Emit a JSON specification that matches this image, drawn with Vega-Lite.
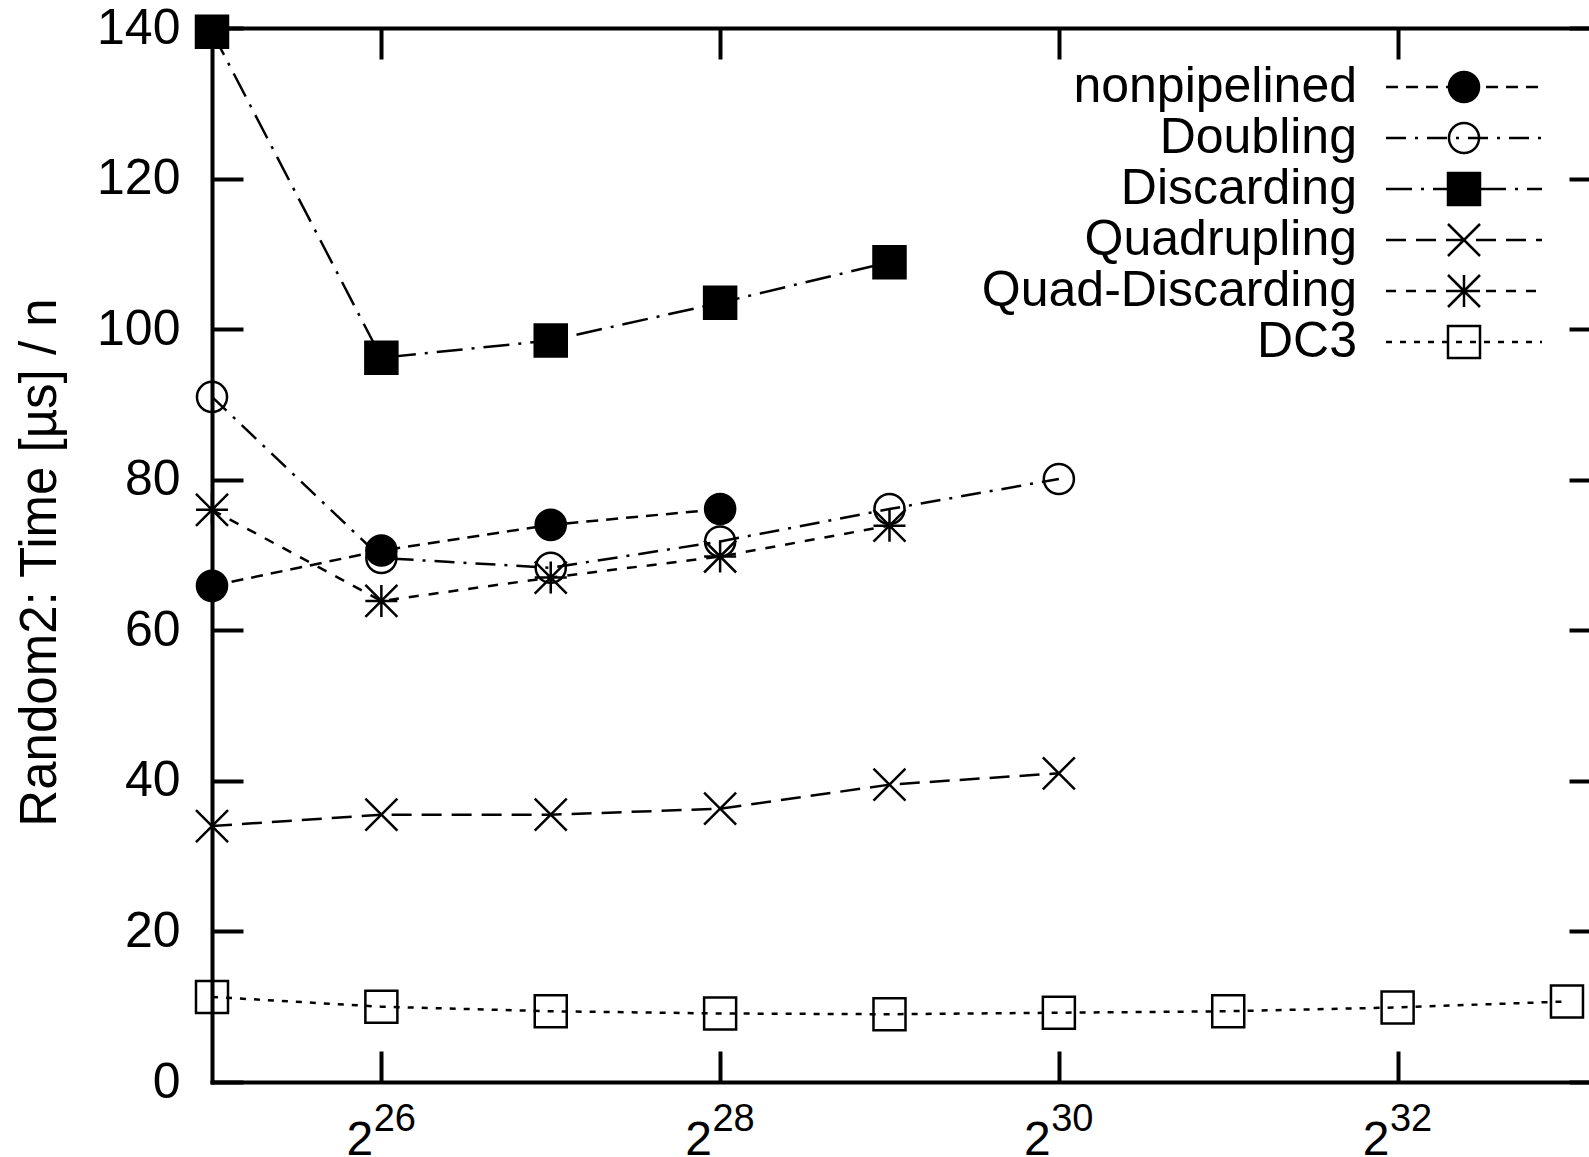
{
  "$schema": "https://vega.github.io/schema/vega-lite/v6.json",
  "width": 1377,
  "height": 1054,
  "autosize": {"type": "none"},
  "padding": {"left": 212, "top": 28, "right": 0, "bottom": 75},
  "background": "white",
  "config": {
    "view": {"stroke": null},
    "font": "Liberation Sans",
    "axis": {
      "grid": false,
      "domainColor": "black",
      "tickColor": "black",
      "labelColor": "black",
      "titleColor": "black",
      "domainWidth": 4,
      "tickWidth": 4,
      "domainCap": "square",
      "labelFont": "Liberation Sans",
      "titleFont": "Liberation Sans"
    }
  },
  "datasets": {
    "perf": [
      {"series": "nonpipelined", "log2n": 25, "time": 65.9},
      {"series": "nonpipelined", "log2n": 26, "time": 70.6},
      {"series": "nonpipelined", "log2n": 27, "time": 74.0},
      {"series": "nonpipelined", "log2n": 28, "time": 76.1},
      {"series": "Doubling", "log2n": 25, "time": 91.0},
      {"series": "Doubling", "log2n": 26, "time": 69.6},
      {"series": "Doubling", "log2n": 27, "time": 68.3},
      {"series": "Doubling", "log2n": 28, "time": 71.8},
      {"series": "Doubling", "log2n": 29, "time": 76.1},
      {"series": "Doubling", "log2n": 30, "time": 80.1},
      {"series": "Discarding", "log2n": 25, "time": 139.5},
      {"series": "Discarding", "log2n": 26, "time": 96.2},
      {"series": "Discarding", "log2n": 27, "time": 98.5},
      {"series": "Discarding", "log2n": 28, "time": 103.5},
      {"series": "Discarding", "log2n": 29, "time": 108.9},
      {"series": "Quadrupling", "log2n": 25, "time": 34.0},
      {"series": "Quadrupling", "log2n": 26, "time": 35.5},
      {"series": "Quadrupling", "log2n": 27, "time": 35.5},
      {"series": "Quadrupling", "log2n": 28, "time": 36.3},
      {"series": "Quadrupling", "log2n": 29, "time": 39.5},
      {"series": "Quadrupling", "log2n": 30, "time": 41.0},
      {"series": "Quad-Discarding", "log2n": 25, "time": 76.0},
      {"series": "Quad-Discarding", "log2n": 26, "time": 63.9},
      {"series": "Quad-Discarding", "log2n": 27, "time": 67.0},
      {"series": "Quad-Discarding", "log2n": 28, "time": 69.8},
      {"series": "Quad-Discarding", "log2n": 29, "time": 73.9},
      {"series": "DC3", "log2n": 25, "time": 11.3},
      {"series": "DC3", "log2n": 26, "time": 10.0},
      {"series": "DC3", "log2n": 27, "time": 9.4},
      {"series": "DC3", "log2n": 28, "time": 9.1},
      {"series": "DC3", "log2n": 29, "time": 9.0},
      {"series": "DC3", "log2n": 30, "time": 9.2},
      {"series": "DC3", "log2n": 31, "time": 9.4},
      {"series": "DC3", "log2n": 32, "time": 9.9},
      {"series": "DC3", "log2n": 33, "time": 10.7}
    ]
  },
  "data": {"name": "perf"},
  "layer": [
    {
      "mark": {"type": "line", "stroke": "black", "strokeWidth": 2.5},
      "encoding": {
        "x": {
          "field": "log2n", "type": "quantitative",
          "scale": {"domain": [25, 33.13], "nice": false, "zero": false},
          "axis": {
            "orient": "bottom", "values": [26, 28, 30, 32], "tickSize": -31,
            "labelExpr": "'2'", "labelFontSize": 48, "labelBaseline": "alphabetic",
            "labelAlign": "center", "labelOffset": -22, "labelPadding": 103,
            "labelFlush": false, "labelOverlap": false, "title": null
          }
        },
        "y": {
          "field": "time", "type": "quantitative",
          "scale": {"domain": [0, 140], "nice": false},
          "axis": {
            "orient": "left", "values": [0, 20, 40, 60, 80, 100, 120, 140], "tickSize": -31,
            "labelFontSize": 50, "labelPadding": 63, "labelFlush": false, "labelOverlap": false,
            "title": "Random2: Time [µs] / n", "titleFontSize": 51, "titleFontWeight": "normal",
            "titlePadding": 30, "titleY": 534
          }
        },
        "strokeDash": {
          "field": "series", "type": "nominal",
          "scale": {
            "domain": ["nonpipelined", "Doubling", "Discarding", "Quadrupling", "Quad-Discarding", "DC3", "_dash"],
            "range": [[12, 8], [20, 9, 3, 9], [26, 9, 3, 9], [20, 10], [10, 10], [6, 8], [1, 0]]
          },
          "legend": null
        }
      }
    },
    {
      "mark": {"type": "point", "stroke": "black", "strokeWidth": 2.5, "size": 1024, "opacity": 1},
      "encoding": {
        "x": {
          "field": "log2n", "type": "quantitative",
          "axis": {"orient": "top", "values": [26, 28, 30, 32], "tickSize": -31, "labels": false, "title": null}
        },
        "y": {
          "field": "time", "type": "quantitative",
          "axis": {"orient": "right", "values": [0, 20, 40, 60, 80, 100, 120, 140], "tickSize": -20, "labels": false, "domain": false, "title": null}
        },
        "shape": {
          "field": "series", "type": "nominal",
          "scale": {
            "domain": ["nonpipelined", "Doubling", "Discarding", "Quadrupling", "Quad-Discarding", "DC3"],
            "range": [
              "M0.94,0A0.94,0.94,0,1,1,-0.94,0A0.94,0.94,0,1,1,0.94,0Z",
              "M0.94,0A0.94,0.94,0,1,1,-0.94,0A0.94,0.94,0,1,1,0.94,0Z",
              "M-1,-1L1,-1L1,1L-1,1Z",
              "M-1,-1L1,1M-1,1L1,-1",
              "M-1,-1L1,1M-1,1L1,-1M-1,0L1,0M0,-1L0,1",
              "M-1,-1L1,-1L1,1L-1,1Z"
            ]
          },
          "legend": null
        },
        "fill": {
          "field": "series", "type": "nominal",
          "scale": {
            "domain": ["nonpipelined", "Doubling", "Discarding", "Quadrupling", "Quad-Discarding", "DC3", "_fill"],
            "range": ["black", "transparent", "black", "transparent", "transparent", "transparent", "transparent"]
          },
          "legend": null
        }
      }
    },
    {
      "mark": {"type": "point", "opacity": 0},
      "encoding": {
        "x": {
          "field": "log2n", "type": "quantitative",
          "axis": {
            "orient": "bottom", "values": [26, 28, 30, 32], "domain": false, "ticks": false, "tickSize": 0,
            "labelFontSize": 38, "labelBaseline": "alphabetic", "labelAlign": "center", "labelOffset": 13,
            "labelPadding": 48, "labelFlush": false, "labelOverlap": false, "title": null
          }
        },
        "y": {"field": "time", "type": "quantitative", "axis": null}
      }
    },
    {
      "mark": {"type": "point", "stroke": "black", "strokeWidth": 2.5, "size": 1024, "opacity": 0},
      "encoding": {
        "x": {"field": "log2n", "type": "quantitative", "axis": null},
        "y": {"field": "time", "type": "quantitative", "axis": null},
        "shape": {
          "field": "series", "type": "nominal",
          "scale": {
            "domain": ["nonpipelined", "Doubling", "Discarding", "Quadrupling", "Quad-Discarding", "DC3"],
            "range": [
              "M-4.875,0L-4.125,0M-3.625,0L-2.875,0M-2.375,0L-1.625,0M-1.125,0L-0.375,0M0.125,0L0.875,0M1.375,0L2.125,0M2.625,0L3.375,0M3.875,0L4.625,0M0.94,0A0.94,0.94,0,1,1,-0.94,0A0.94,0.94,0,1,1,0.94,0Z",
              "M-4.875,0L-3.625,0M-3.0625,0L-2.875,0M-2.3125,0L-1.0625,0M-0.5,0L-0.3125,0M0.25,0L1.5,0M2.0625,0L2.25,0M2.8125,0L4.0625,0M4.625,0L4.8125,0M0.94,0A0.94,0.94,0,1,1,-0.94,0A0.94,0.94,0,1,1,0.94,0Z",
              "M-4.875,0L-3.25,0M-2.6875,0L-2.5,0M-1.9375,0L-0.3125,0M0.25,0L0.4375,0M1,0L2.625,0M3.1875,0L3.375,0M3.9375,0L4.875,0M-1,-1L1,-1L1,1L-1,1Z",
              "M-4.875,0L-3.625,0M-3,0L-1.75,0M-1.125,0L0.125,0M0.75,0L2,0M2.625,0L3.875,0M4.5,0L4.875,0M-1,-1L1,1M-1,1L1,-1",
              "M-4.875,0L-4.25,0M-3.625,0L-3,0M-2.375,0L-1.75,0M-1.125,0L-0.5,0M0.125,0L0.75,0M1.375,0L2,0M2.625,0L3.25,0M3.875,0L4.5,0M-1,-1L1,1M-1,1L1,-1M-1,0L1,0M0,-1L0,1",
              "M-4.875,0L-4.5,0M-4,0L-3.625,0M-3.125,0L-2.75,0M-2.25,0L-1.875,0M-1.375,0L-1,0M-0.5,0L-0.125,0M0.375,0L0.75,0M1.25,0L1.625,0M2.125,0L2.5,0M3,0L3.375,0M3.875,0L4.25,0M4.75,0L4.875,0M-1,-1L1,-1L1,1L-1,1Z"
            ]
          },
          "legend": {
            "orient": "none", "legendX": 1227, "legendY": 34, "title": null, "padding": 0,
            "labelFont": "Liberation Sans", "labelFontSize": 50, "labelColor": "black",
            "labelAlign": "right", "labelBaseline": "middle", "labelOffset": -132, "labelLimit": 800,
            "symbolSize": 1024, "symbolStrokeWidth": 2.5, "symbolOpacity": 1, "symbolOffset": 0,
            "rowPadding": 1
          }
        },
        "fill": {
          "field": "series", "type": "nominal",
          "scale": {
            "domain": ["nonpipelined", "Doubling", "Discarding", "Quadrupling", "Quad-Discarding", "DC3"],
            "range": ["black", "transparent", "black", "transparent", "transparent", "transparent"]
          },
          "legend": {
            "orient": "none", "legendX": 1227, "legendY": 34, "title": null, "padding": 0,
            "labelFont": "Liberation Sans", "labelFontSize": 50, "labelColor": "black",
            "labelAlign": "right", "labelBaseline": "middle", "labelOffset": -132, "labelLimit": 800,
            "symbolSize": 1024, "symbolStrokeWidth": 2.5, "symbolOpacity": 1, "symbolOffset": 0,
            "rowPadding": 1
          }
        }
      }
    }
  ],
  "resolve": {
    "axis": {"x": "independent", "y": "independent"},
    "scale": {"shape": "independent", "fill": "independent"}
  }
}
